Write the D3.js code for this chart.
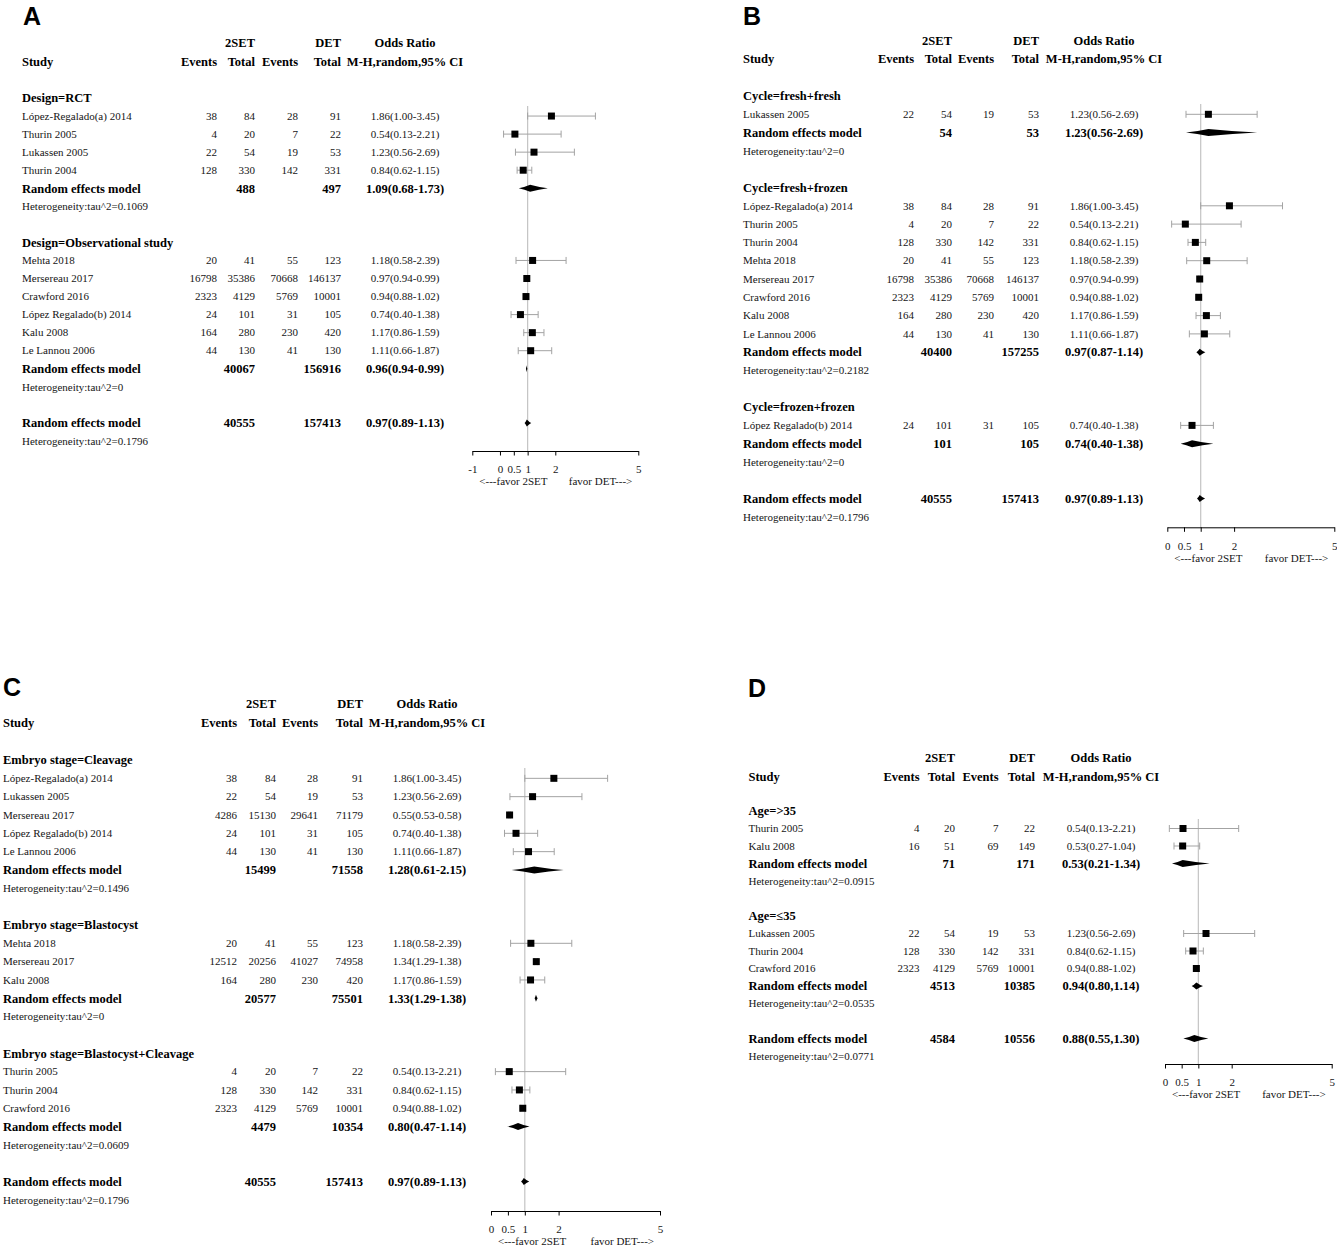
<!DOCTYPE html>
<html>
<head>
<meta charset="utf-8">
<script src="https://cdn.jsdelivr.net/npm/d3@7"></script>
<style>
  body { margin: 0; background: #fff; }
  svg { display: block; }
  text { font-family: "Liberation Serif", "Times New Roman", serif; }
  .letter { font-family: "Liberation Sans", Arial, sans-serif; font-weight: bold; font-size: 25px; }
</style>
</head>
<body>
<div id="chart"></div>
<script>
// study rows: name, events 2SET, total 2SET, events DET, total DET, OR, lower, upper
// model rows: total 2SET, total DET, OR, lower, upper, tau^2, CI separator
const overallAll = [40555, 157413, 0.97, 0.89, 1.13, 0.1796, "-"]

// A: design
const aGroups = ["Design=RCT", "Design=Observational study"]
const aRct = [
  ["López-Regalado(a) 2014", 38, 84, 28, 91, 1.86, 1.00, 3.45],
  ["Thurin 2005", 4, 20, 7, 22, 0.54, 0.13, 2.21],
  ["Lukassen 2005", 22, 54, 19, 53, 1.23, 0.56, 2.69],
  ["Thurin 2004", 128, 330, 142, 331, 0.84, 0.62, 1.15]
]
const aRctModel = [488, 497, 1.09, 0.68, 1.73, 0.1069, "-"]
const aObs = [
  ["Mehta 2018", 20, 41, 55, 123, 1.18, 0.58, 2.39],
  ["Mersereau 2017", 16798, 35386, 70668, 146137, 0.97, 0.94, 0.99],
  ["Crawford 2016", 2323, 4129, 5769, 10001, 0.94, 0.88, 1.02],
  ["López Regalado(b) 2014", 24, 101, 31, 105, 0.74, 0.40, 1.38],
  ["Kalu 2008", 164, 280, 230, 420, 1.17, 0.86, 1.59],
  ["Le Lannou 2006", 44, 130, 41, 130, 1.11, 0.66, 1.87]
]
const aObsModel = [40067, 156916, 0.96, 0.94, 0.99, 0, "-"]

// B: cycle
const bGroups = ["Cycle=fresh+fresh", "Cycle=fresh+frozen", "Cycle=frozen+frozen"]
const bFresh = [
  ["Lukassen 2005", 22, 54, 19, 53, 1.23, 0.56, 2.69]
]
const bFreshModel = [54, 53, 1.23, 0.56, 2.69, 0, "-"]
const bMixed = [
  ["López-Regalado(a) 2014", 38, 84, 28, 91, 1.86, 1.00, 3.45],
  ["Thurin 2005", 4, 20, 7, 22, 0.54, 0.13, 2.21],
  ["Thurin 2004", 128, 330, 142, 331, 0.84, 0.62, 1.15],
  ["Mehta 2018", 20, 41, 55, 123, 1.18, 0.58, 2.39],
  ["Mersereau 2017", 16798, 35386, 70668, 146137, 0.97, 0.94, 0.99],
  ["Crawford 2016", 2323, 4129, 5769, 10001, 0.94, 0.88, 1.02],
  ["Kalu 2008", 164, 280, 230, 420, 1.17, 0.86, 1.59],
  ["Le Lannou 2006", 44, 130, 41, 130, 1.11, 0.66, 1.87]
]
const bMixedModel = [40400, 157255, 0.97, 0.87, 1.14, 0.2182, "-"]
const bFrozen = [
  ["López Regalado(b) 2014", 24, 101, 31, 105, 0.74, 0.40, 1.38]
]
const bFrozenModel = [101, 105, 0.74, 0.40, 1.38, 0, "-"]

// C: embryo stage
const cGroups = ["Embryo stage=Cleavage", "Embryo stage=Blastocyst", "Embryo stage=Blastocyst+Cleavage"]
const cCleavage = [
  ["López-Regalado(a) 2014", 38, 84, 28, 91, 1.86, 1.00, 3.45],
  ["Lukassen 2005", 22, 54, 19, 53, 1.23, 0.56, 2.69],
  ["Mersereau 2017", 4286, 15130, 29641, 71179, 0.55, 0.53, 0.58],
  ["López Regalado(b) 2014", 24, 101, 31, 105, 0.74, 0.40, 1.38],
  ["Le Lannou 2006", 44, 130, 41, 130, 1.11, 0.66, 1.87]
]
const cCleavageModel = [15499, 71558, 1.28, 0.61, 2.15, 0.1496, "-"]
const cBlast = [
  ["Mehta 2018", 20, 41, 55, 123, 1.18, 0.58, 2.39],
  ["Mersereau 2017", 12512, 20256, 41027, 74958, 1.34, 1.29, 1.38],
  ["Kalu 2008", 164, 280, 230, 420, 1.17, 0.86, 1.59]
]
const cBlastModel = [20577, 75501, 1.33, 1.29, 1.38, 0, "-"]
const cBoth = [
  ["Thurin 2005", 4, 20, 7, 22, 0.54, 0.13, 2.21],
  ["Thurin 2004", 128, 330, 142, 331, 0.84, 0.62, 1.15],
  ["Crawford 2016", 2323, 4129, 5769, 10001, 0.94, 0.88, 1.02]
]
const cBothModel = [4479, 10354, 0.80, 0.47, 1.14, 0.0609, "-"]

// D: age
const dGroups = ["Age=>35", "Age=≤35"]
const dOld = [
  ["Thurin 2005", 4, 20, 7, 22, 0.54, 0.13, 2.21],
  ["Kalu 2008", 16, 51, 69, 149, 0.53, 0.27, 1.04]
]
const dOldModel = [71, 171, 0.53, 0.21, 1.34, 0.0915, "-"]
const dYoung = [
  ["Lukassen 2005", 22, 54, 19, 53, 1.23, 0.56, 2.69],
  ["Thurin 2004", 128, 330, 142, 331, 0.84, 0.62, 1.15],
  ["Crawford 2016", 2323, 4129, 5769, 10001, 0.94, 0.88, 1.02]
]
const dYoungModel = [4513, 10385, 0.94, 0.80, 1.14, 0.0535, ","]
const dOverall = [4584, 10556, 0.88, 0.55, 1.30, 0.0771, ","]

const ticksA = [-1, 0, 0.5, 1, 2, 5]
const ticksBCD = [0, 0.5, 1, 2, 5]
const leftLabel = "<---favor 2SET"
const rightLabel = "favor DET--->"

const fmt = d3.format(".2f")
const orText = (or, lo, hi, sep) => `${fmt(or)}(${fmt(lo)}${sep}${fmt(hi)})`

const svg = d3.select("#chart")
  .append("svg")
    .attr("width", 1337)
    .attr("height", 1248)

// text helper: y is the visual middle of the line
const txt = (g, x, y, str, size, weight, anchor) => {
  g.append("text")
    .attr("x", x)
    .attr("y", y + size * 0.34)
    .attr("font-size", size)
    .attr("font-weight", weight || "normal")
    .attr("text-anchor", anchor || "start")
    .attr("fill", weight === "bold" ? "#000" : "#151515")
    .text(str)
}

// spindle-like diamond with slightly concave sides
const diamond = (x0, xm, x1, y, h) => {
  const p = d3.path()
  p.moveTo(x0, y)
  p.quadraticCurveTo((x0 + xm) / 2, y - h * 0.3, xm, y - h)
  p.quadraticCurveTo((xm + x1) / 2, y - h * 0.3, x1, y)
  p.quadraticCurveTo((xm + x1) / 2, y + h * 0.3, xm, y + h)
  p.quadraticCurveTo((x0 + xm) / 2, y + h * 0.3, x0, y)
  p.closePath()
  return p.toString()
}

const drawPanel = (lay, groups, overall) => {
  const g = svg.append("g")
  const big = 12.5
  const small = 11

  g.append("text")
    .attr("class", "letter")
    .attr("x", lay.letter[1])
    .attr("y", lay.letter[2])
    .text(lay.letter[0])

  // header
  const [c1, c2, c3, c4] = lay.cols
  txt(g, c2, lay.head1, "2SET", big, "bold", "end")
  txt(g, c4, lay.head1, "DET", big, "bold", "end")
  txt(g, lay.orX, lay.head1, "Odds Ratio", big, "bold", "middle")
  txt(g, lay.studyX, lay.head2, "Study", big, "bold")
  txt(g, c1, lay.head2, "Events", big, "bold", "end")
  txt(g, c2, lay.head2, "Total", big, "bold", "end")
  txt(g, c3, lay.head2, "Events", big, "bold", "end")
  txt(g, c4, lay.head2, "Total", big, "bold", "end")
  txt(g, lay.orX, lay.head2, "M-H,random,95% CI", big, "bold", "middle")

  const rows = []
  groups.forEach(grp => {
    rows.push({ kind: "group", label: grp.label })
    grp.studies.forEach(s => rows.push({ kind: "study", d: s }))
    rows.push({ kind: "model", d: grp.model })
    rows.push({ kind: "het", d: grp.model })
    rows.push({ kind: "blank" })
  })
  rows.push({ kind: "model", d: overall })
  rows.push({ kind: "het", d: overall })

  const yScale = d3.scaleLinear()
    .domain([0, rows.length - 1])
    .range([lay.top, lay.top + lay.rowH * (rows.length - 1)])
  const xScale = d3.scaleLinear()
    .domain(lay.xDomain)
    .range(lay.xRange)

  // reference line at OR = 1
  g.append("line")
    .attr("x1", xScale(1)).attr("x2", xScale(1))
    .attr("y1", lay.top + 8).attr("y2", lay.axisY)
    .attr("stroke", "#c4c4c4")
    .attr("stroke-width", 1.2)

  rows.forEach((r, i) => {
    const y = yScale(i)
    if (r.kind === "group") {
      txt(g, lay.studyX, y, r.label, big, "bold")
    } else if (r.kind === "study") {
      const [name, e1, n1, e2, n2, or, lo, hi] = r.d
      txt(g, lay.studyX, y, name, small)
      txt(g, c1, y, e1, small, null, "end")
      txt(g, c2, y, n1, small, null, "end")
      txt(g, c3, y, e2, small, null, "end")
      txt(g, c4, y, n2, small, null, "end")
      txt(g, lay.orX, y, orText(or, lo, hi, "-"), small, null, "middle")
      const ci = g.append("g").attr("stroke", "#a3a3a3").attr("stroke-width", 1)
      ci.append("line").attr("x1", xScale(lo)).attr("x2", xScale(hi)).attr("y1", y).attr("y2", y)
      ci.append("line").attr("x1", xScale(lo)).attr("x2", xScale(lo)).attr("y1", y - 3.5).attr("y2", y + 3.5)
      ci.append("line").attr("x1", xScale(hi)).attr("x2", xScale(hi)).attr("y1", y - 3.5).attr("y2", y + 3.5)
      g.append("rect")
        .attr("x", xScale(or) - 3.5).attr("y", y - 3.5)
        .attr("width", 7).attr("height", 7)
        .attr("fill", "#000")
    } else if (r.kind === "model") {
      const [n1, n2, or, lo, hi, , sep] = r.d
      txt(g, lay.studyX, y, "Random effects model", big, "bold")
      txt(g, c2, y, n1, big, "bold", "end")
      txt(g, c4, y, n2, big, "bold", "end")
      txt(g, lay.orX, y, orText(or, lo, hi, sep), big, "bold", "middle")
      g.append("path")
        .attr("d", diamond(xScale(lo), xScale(or), xScale(hi), y, 3.5))
        .attr("fill", "#000")
    } else if (r.kind === "het") {
      txt(g, lay.studyX, y, "Heterogeneity:tau^2=" + r.d[5], small)
    }
  })

  // x axis
  const xAxis = d3.axisBottom(xScale)
    .tickValues(lay.ticks)
    .tickFormat(d => String(d))
    .tickSize(4.5)
    .tickSizeOuter(0)
    .tickPadding(10)
  const ax = g.append("g")
    .attr("transform", `translate(0, ${lay.axisY})`)
    .call(xAxis)
  ax.selectAll("text")
    .attr("font-family", "Liberation Serif, Times New Roman, serif")
    .attr("font-size", 11)
    .attr("fill", "#151515")
  ax.selectAll("path, line").attr("stroke", "#000").attr("stroke-width", 1)

  const favY = lay.axisY + 19 + 11.5
  txt(g, lay.xRange[0] + 7, favY, leftLabel, small, null, "start")
  txt(g, lay.xRange[1] - 6, favY, rightLabel, small, null, "end")
}

drawPanel({
  letter: ["A", 23, 25], studyX: 22, cols: [217, 255, 298, 341], orX: 405,
  head1: 43, head2: 62, top: 98, rowH: 18.05,
  xDomain: [-1, 5], xRange: [472.3, 638.3], ticks: ticksA, axisY: 451
}, [
  { label: aGroups[0], studies: aRct, model: aRctModel },
  { label: aGroups[1], studies: aObs, model: aObsModel }
], overallAll)

drawPanel({
  letter: ["B", 743, 25], studyX: 743, cols: [914, 952, 994, 1039], orX: 1104,
  head1: 41, head2: 59, top: 96, rowH: 18.3,
  xDomain: [0, 5], xRange: [1167.3, 1334.3], ticks: ticksBCD, axisY: 527.3
}, [
  { label: bGroups[0], studies: bFresh, model: bFreshModel },
  { label: bGroups[1], studies: bMixed, model: bMixedModel },
  { label: bGroups[2], studies: bFrozen, model: bFrozenModel }
], overallAll)

drawPanel({
  letter: ["C", 3, 696], studyX: 3, cols: [237, 276, 318, 363], orX: 427,
  head1: 704, head2: 723, top: 760, rowH: 18.33,
  xDomain: [0, 5], xRange: [491, 660], ticks: ticksBCD, axisY: 1211
}, [
  { label: cGroups[0], studies: cCleavage, model: cCleavageModel },
  { label: cGroups[1], studies: cBlast, model: cBlastModel },
  { label: cGroups[2], studies: cBoth, model: cBothModel }
], overallAll)

drawPanel({
  letter: ["D", 748, 697], studyX: 748.5, cols: [919.5, 955, 998.5, 1035], orX: 1101,
  head1: 758, head2: 777, top: 811, rowH: 17.5,
  xDomain: [0, 5], xRange: [1165, 1331.7], ticks: ticksBCD, axisY: 1064
}, [
  { label: dGroups[0], studies: dOld, model: dOldModel },
  { label: dGroups[1], studies: dYoung, model: dYoungModel }
], dOverall)
</script>
</body>
</html>
